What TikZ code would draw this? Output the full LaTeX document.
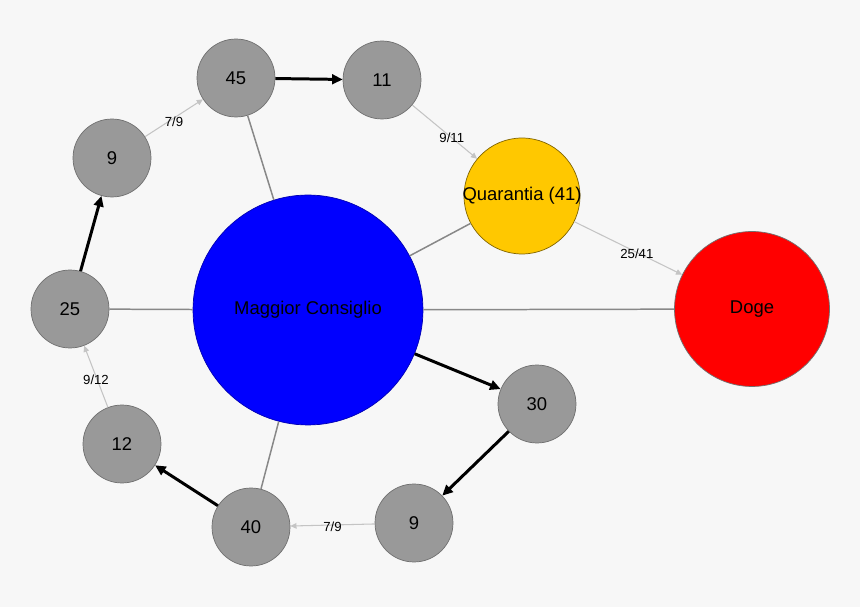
\documentclass[tikz,border=0pt]{standalone}
\usepackage{fontspec}
\setmainfont{Liberation Sans}
\usetikzlibrary{arrows.meta}
\definecolor{bg}{HTML}{F7F7F7}
\definecolor{nodegray}{HTML}{999999}
\definecolor{nodeline}{HTML}{707070}
\definecolor{linegray}{HTML}{888888}
\definecolor{quotagray}{HTML}{C4C4C4}
\definecolor{quarantia}{HTML}{FFC800}
\tikzstyle{vertex}=[draw=nodeline, fill=nodegray, shape=circle, inner sep=0pt, minimum size=1.56cm, font=\fontsize{10.5}{12}\selectfont]
\tikzstyle{edge}=[draw=linegray, line width=0.85pt]
\tikzstyle{flow}=[draw=black, line width=1.7pt, -{Triangle[length=6pt,width=5.5pt]}]
\tikzstyle{quota}=[draw=quotagray, line width=0.6pt, -{Triangle[length=3.5pt,width=3.2pt]}]
\tikzstyle{ratio}=[font=\fontsize{7.5}{9}\selectfont, inner sep=0pt, text=black]

\begin{document}
\begin{tikzpicture}[x=0.02cm, y=-0.02cm]
            \fill[bg] (0,0) rectangle (860,607);
            \useasboundingbox (0,0) rectangle (860,607);
            % council and offices
            \node[vertex, fill=blue, draw=blue!70!black, minimum size=4.6cm] (mc) at (308,310) {Maggior Consiglio};
            \node[vertex, fill=red, draw=nodeline, minimum size=3.1cm] (doge) at (752,309) {Doge};
            \node[vertex, fill=quarantia, draw=quarantia!50!black, minimum size=2.32cm] (q) at (522,196) {\makebox[0pt]{Quarantia (41)}};
            % election rounds
            \node[vertex] (45) at (236,78) {45};
            \node[vertex] (11) at (382,80) {11};
            \node[vertex] (9a) at (112,158) {9};
            \node[vertex] (25) at (70,309) {25};
            \node[vertex] (12) at (122,444) {12};
            \node[vertex] (40) at (251,527) {40};
            \node[vertex] (9b) at (414,523) {9};
            \node[vertex] (30) at (537,404) {30};
            \draw[edge] (mc) -- (doge);
            \draw[edge] (mc) -- (q);
            \draw[edge] (mc) -- (45);
            \draw[edge] (mc) -- (25);
            \draw[edge] (mc) -- (40);
            \draw[flow] (mc) -- (30);
            \draw[flow] (30) -- (9b);
            \draw[quota] (9b) -- node[ratio, yshift=-1pt] {7/9} (40);
            \draw[flow] (40) -- (12);
            \draw[quota] (12) -- node[ratio, yshift=-2pt] {9/12} (25);
            \draw[flow] (25) -- (9a);
            \draw[quota] (9a) -- node[ratio, yshift=-2pt] {7/9} (45);
            \draw[flow] (45) -- (11);
            \draw[quota] (11) -- node[ratio, pos=0.61] {9/11} (q);
            \draw[quota] (q) -- node[ratio, pos=0.58, yshift=-1pt] {25/41} (doge);
        \end{tikzpicture}
\end{document}
